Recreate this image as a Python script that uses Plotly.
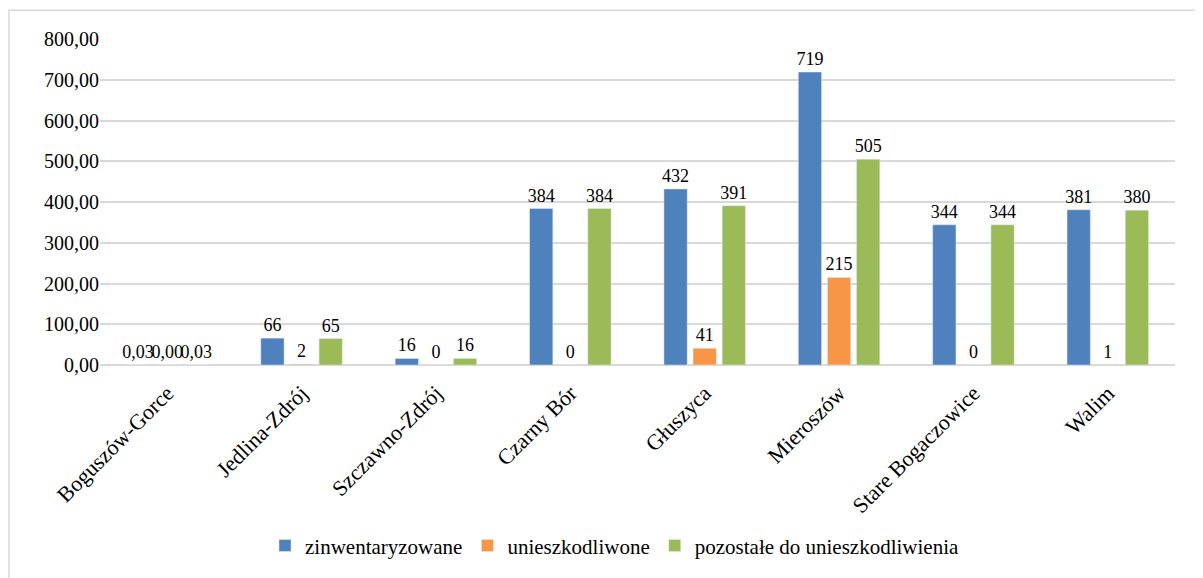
import plotly.graph_objects as go

gminy = ['Boguszów-Gorce', 'Jedlina-Zdrój', 'Szczawno-Zdrój', 'Czarny Bór',
         'Głuszyca', 'Mieroszów', 'Stare Bogaczowice', 'Walim']
zinwentaryzowane = [0.03, 66, 16, 384, 432, 719, 344, 381]
unieszkodliwione = [0.00, 2, 0, 0, 41, 215, 0, 1]
pozostale = [0.03, 65, 16, 384, 391, 505, 344, 380]
# ile miejsc po przecinku w etykietach danych
miejsca = [2, 0, 0, 0, 0, 0, 0, 0]

y_ticks = [0, 100, 200, 300, 400, 500, 600, 700, 800]

FONT = 'Liberation Serif, Times New Roman, serif'


def etykiety(values):
    return [f"{v:.{d}f}".replace('.', ',') for v, d in zip(values, miejsca)]


# strona ma 8px marginesu body, wiec wykres zaczyna sie w (8, 8)
OFF = 8
W, H = 1203 - OFF, 578 - OFF
L, R, T, B = 100 - OFF, 28, 39 - OFF, 211
pw, ph = W - L - R, H - T - B


def px_x(x):
    return (x - OFF - L) / pw


def px_y(y):
    return (H - B - (y - OFF)) / ph


serie = [
    ('zinwentaryzowane', zinwentaryzowane, '#4f81bd'),
    ('unieszkodliwone', unieszkodliwione, '#f79646'),
    ('pozostałe do unieszkodliwienia', pozostale, '#9bbb59'),
]

data = []
for name, vals, color in serie:
    data.append(go.Bar(
        x=gminy, y=vals,
        name=name,
        marker=dict(color=color),
        text=etykiety(vals),
        textposition='outside',
        constraintext='none',
        cliponaxis=False,
        textfont=dict(family=FONT, size=18, color='black'),
        hoverinfo='x+y'
    ))

fig = go.Figure(data=data)

fig.update_layout(
    width=W, height=H,
    margin=dict(l=L, r=R, t=T, b=B),
    plot_bgcolor='white',
    paper_bgcolor='white',
    separators=', ',
    barmode='group',
    bargap=0.35,
    bargroupgap=0.2,
    font=dict(family=FONT, size=18, color='black'),
    showlegend=True,
    legend=dict(
        orientation='h',
        x=px_x(615), xanchor='center',
        y=px_y(549), yanchor='middle',
        font=dict(family=FONT, size=21),
        itemwidth=30,
        tracegroupgap=0,
    ),
    shapes=[dict(
        type='rect', xref='paper', yref='paper',
        x0=px_x(9), x1=px_x(1250), y0=px_y(10), y1=px_y(620),
        line=dict(color='#d9d9d9', width=1.5),
        layer='below'
    )]
)

fig.update_yaxes(
    range=[0, 800],
    tickvals=y_ticks,
    tickformat='.2f',
    showgrid=True, gridcolor='#d9d9d9', gridwidth=1.5,
    zeroline=True, zerolinecolor='#d9d9d9', zerolinewidth=1.5,
    showline=False,
    ticks='', ticklen=0,
    tickfont=dict(family=FONT, size=20),
)
fig.update_xaxes(
    tickangle=-45,
    showgrid=False,
    showline=False,
    ticks='',
    ticklabelstandoff=10,
    tickfont=dict(family=FONT, size=22),
)

fig.write_html("out.html")
